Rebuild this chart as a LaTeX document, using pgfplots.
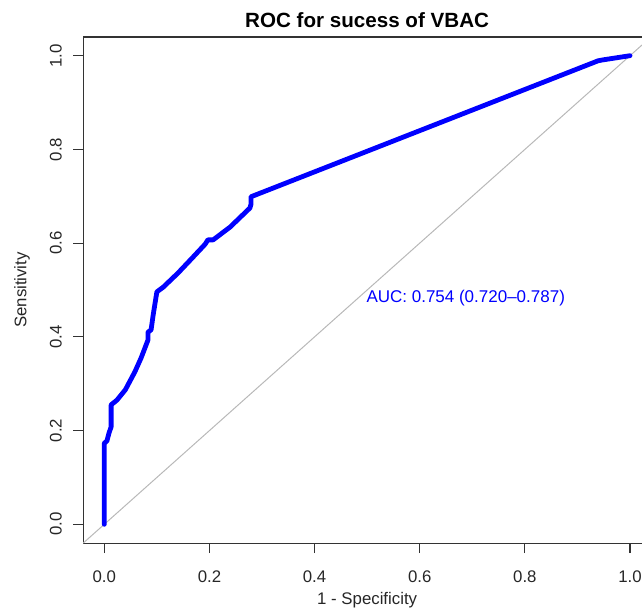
\documentclass[border=0pt]{standalone}
\usepackage{fontspec}
\setmainfont{Liberation Sans}
\usepackage{pgfplots}
\pgfplotsset{compat=1.18}
\definecolor{rblue}{RGB}{0,0,255}
\begin{document}
\begin{tikzpicture}
\useasboundingbox (-52.15pt,-43.85pt) rectangle (268.85pt,262.15pt);
\clip (-52.15pt,-43.85pt) rectangle (268.85pt,262.15pt);
\begin{axis}[
  anchor=origin, at={(0pt,0pt)},
  x=262.85pt, y=234.3pt,
  xmin=-0.04, xmax=1.04, ymin=-0.04, ymax=1.04,
  axis line style={draw=black!80, line width=0.55pt},
  tick style={draw=black!80, line width=0.55pt},
  tick align=outside, major tick length=5pt,
  xtick pos=bottom, ytick pos=left,
  xtick={0,0.2,0.4,0.6,0.8,1}, ytick={0,0.2,0.4,0.6,0.8,1},
  xticklabels={0.0,0.2,0.4,0.6,0.8,1.0},
  yticklabels={0.0,0.2,0.4,0.6,0.8,1.0},
  ticklabel style={font=\fontsize{8.4}{10}\selectfont, text=black!85},
  xticklabel style={anchor=north, inner sep=0pt},
  yticklabel style={rotate=90, anchor=south, inner sep=0pt},
  xticklabel shift=8.5pt,
  yticklabel shift=5.5pt,
  clip=false,
]
\addplot[color=black!28, line width=0.5pt] coordinates {(-0.04,-0.04) (1.04,1.04)};
\addplot[color=rblue, line width=2.4pt, line join=round, line cap=round] coordinates {
(0,0) (0,0.173) (0.005,0.178) (0.009,0.195) (0.013,0.208) (0.013,0.255)
(0.024,0.265) (0.040,0.287) (0.058,0.325) (0.070,0.355) (0.083,0.393)
(0.083,0.410) (0.089,0.415) (0.093,0.447) (0.100,0.496) (0.112,0.506)
(0.140,0.536) (0.167,0.568) (0.192,0.598) (0.197,0.607) (0.207,0.607)
(0.239,0.634) (0.277,0.675) (0.279,0.683) (0.279,0.699) (0.939,0.989)
(0.948,0.991) (1.000,1.000)
};
\node[anchor=west, text=rblue, font=\fontsize{8.5}{10}\selectfont, inner sep=0pt] at (axis cs:0.498,0.483) {AUC: 0.754 (0.720--0.787)};
\node[anchor=base, font=\bfseries\fontsize{10.3}{12}\selectfont, inner sep=0pt] at (axis cs:0.5,1.061) {ROC for sucess of VBAC};
\node[font=\fontsize{8.4}{10}\selectfont, text=black!85, inner sep=0pt] at (axis cs:0.5,-0.1615) {1 - Specificity};
\node[rotate=90, font=\fontsize{8.4}{10}\selectfont, text=black!85, inner sep=0pt] at (axis cs:-0.1566,0.5) {Sensitivity};
\end{axis}
\end{tikzpicture}
\end{document}
